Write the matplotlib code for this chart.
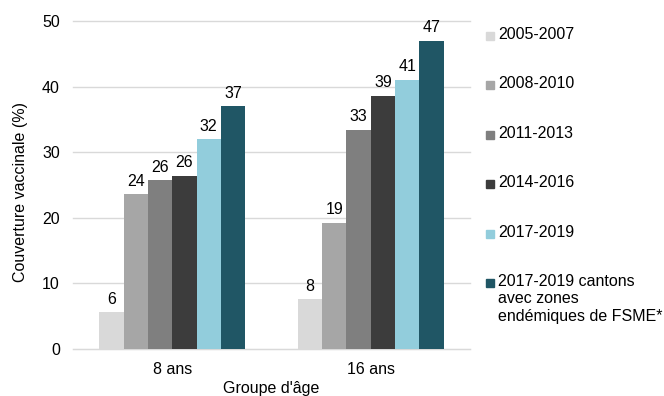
import numpy as np
import matplotlib
matplotlib.use('Agg')
import matplotlib.pyplot as plt
from matplotlib.patches import Rectangle

plt.rcParams['font.family'] = ['Liberation Sans', 'DejaVu Sans']
plt.rcParams['font.size'] = 11.5

# Data
groups = ['8 ans', '16 ans']
periods = ['2005-2007', '2008-2010', '2011-2013', '2014-2016', '2017-2019',
           '2017-2019 cantons\navec zones\nendémiques de FSME*']
values = [
    [5.6, 7.6],
    [23.6, 19.2],
    [25.7, 33.4],
    [26.4, 38.6],
    [32.0, 41.0],
    [37.0, 47.0],
]
colors = ['#d9d9d9', '#a6a6a6', '#7f7f7f', '#3c3c3c', '#92cddc', '#205665']

W, H = 664, 396
fig = plt.figure(figsize=(W / 100, H / 100), dpi=100)
ax = fig.add_axes([73 / W, 1 - 349 / H, 397 / W, 328 / H])

x = np.arange(len(groups)) + 0.5
width = 0.1225
n = len(periods)
for i in range(n):
    pos = x + (i - (n - 1) / 2) * width
    bars = ax.bar(pos, values[i], width, color=colors[i], zorder=3)
    ax.bar_label(bars, fmt='%.0f', padding=4, fontsize=11.5, color='#000000')

ax.set_xlim(0, 2)
ax.set_ylim(0, 50)
ax.set_xticks(x)
ax.set_xticklabels(groups)
ax.set_yticks(np.arange(0, 51, 10))
ax.tick_params(axis='both', length=0, labelsize=11.5)
ax.tick_params(axis='y', pad=9.5)
ax.tick_params(axis='x', pad=9.5)
ax.grid(axis='y', color='#d9d9d9', lw=1, zorder=0)
for line in ax.get_ygridlines():
    line.set_clip_on(False)
for s in ['top', 'right', 'left']:
    ax.spines[s].set_visible(False)
ax.spines['bottom'].set_color('#d9d9d9')

fig.text(21 / W, 1 - 191.5 / H, 'Couverture vaccinale (%)', rotation=90,
         ha='center', va='center', fontsize=11.5)
fig.text(271.5 / W, 1 - 393 / H, "Groupe d'âge", ha='center', va='baseline',
         fontsize=11.5)

# Legend
for i in range(n):
    yc = 36 + 49.4 * i
    fig.patches.append(Rectangle((486 / W, 1 - (yc + 4) / H), 8 / W, 8 / H,
                                 transform=fig.transFigure, color=colors[i]))
    t = fig.text(498 / W, 1 - (yc - 9) / H, periods[i], ha='left', va='top',
                 fontsize=11.5)
    t.set_linespacing(1.2)

fig.savefig('out.png', dpi=100)
